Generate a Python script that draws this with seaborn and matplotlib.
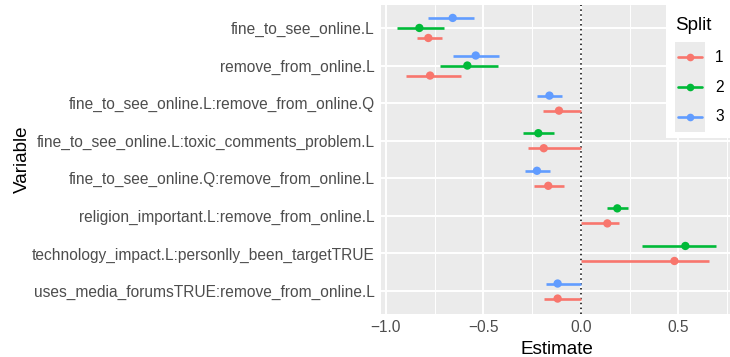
import matplotlib
matplotlib.use("Agg")
import matplotlib.pyplot as plt
from matplotlib.patches import Rectangle
from matplotlib.lines import Line2D
import numpy as np
import pandas as pd
import seaborn as sns

# Model coefficients per split: point estimate with confidence interval
variables = [
    "fine_to_see_online.L",
    "remove_from_online.L",
    "fine_to_see_online.L:remove_from_online.Q",
    "fine_to_see_online.L:toxic_comments_problem.L",
    "fine_to_see_online.Q:remove_from_online.L",
    "religion_important.L:remove_from_online.L",
    "technology_impact.L:personlly_been_targetTRUE",
    "uses_media_forumsTRUE:remove_from_online.L",
]

variable = [
    variables[0], variables[0], variables[0],
    variables[1], variables[1], variables[1],
    variables[2], variables[2],
    variables[3], variables[3],
    variables[4], variables[4],
    variables[5], variables[5],
    variables[6], variables[6],
    variables[7], variables[7],
]
split = [1, 2, 3, 1, 2, 3, 1, 3, 1, 2, 1, 3, 1, 2, 1, 2, 1, 3]
estimate = [-0.782, -0.828, -0.657, -0.773, -0.582, -0.539, -0.112, -0.161,
            -0.190, -0.218, -0.167, -0.225, 0.136, 0.187, 0.480, 0.536,
            -0.119, -0.119]
ci_low = [-0.842, -0.941, -0.782, -0.896, -0.722, -0.657, -0.192, -0.223,
          -0.269, -0.298, -0.240, -0.286, 0.000, 0.136, 0.000, 0.312,
          -0.187, -0.178]
ci_high = [-0.710, -0.700, -0.546, -0.616, -0.423, -0.418, 0.000, -0.095,
           0.000, -0.136, -0.085, -0.158, 0.196, 0.240, 0.657, 0.693,
           0.000, 0.000]

splits = [1, 2, 3]
palette = {1: "#F8766D", 2: "#00BA38", 3: "#619CFF"}

df = pd.DataFrame({"variable": variable, "split": split, "estimate": estimate,
                   "low": ci_low, "high": ci_high})

# dodge positions within each variable row (split 1 lowest on screen)
dodge_width = 0.8
df["row"] = df["variable"].map({v: i for i, v in enumerate(variables)})
pos = []
for _, r in df.iterrows():
    grp = sorted(df.loc[df["variable"] == r["variable"], "split"])
    n = len(grp)
    k = grp.index(r["split"])
    pos.append(r["row"] + ((n - 1) / 2 - k) * dodge_width / n)
df["ypos"] = pos

W, H = 730, 357
fig = plt.figure(figsize=(W / 100, H / 100), dpi=100)
sns.set_style("white")
plt.rcParams["font.family"] = ["Liberation Sans", "DejaVu Sans"]

lo = min(df["low"].min(), df["estimate"].min())
hi = max(df["high"].max(), df["estimate"].max())
span = hi - lo
xlim = (lo - 0.05 * span, hi + 0.05 * span)

px_left, px_right = 381.4, 731.9
px_top, px_bottom = 5.4, 313.6
ax = fig.add_axes([px_left / W, 1 - px_bottom / H,
                   (px_right - px_left) / W, (px_bottom - px_top) / H])
ax.set_facecolor("#EBEBEB")
for s in ax.spines.values():
    s.set_visible(False)

ax.set_xlim(*xlim)
ax.set_ylim(len(variables) - 1 + 0.6, -0.6)

major = [-1.0, -0.5, 0.0, 0.5]
minor = [-0.75, -0.25, 0.25, 0.75]
for m in minor:
    ax.axvline(m, color="white", lw=0.7, zorder=0.5)
for m in major:
    ax.axvline(m, color="white", lw=1.4, zorder=0.6)
for i in range(len(variables)):
    ax.axhline(i, color="white", lw=1.4, zorder=0.6)

ax.axvline(0, color="black", lw=1.1, ls=(0, (1, 2.2)), zorder=2)

for sp in splits:
    d = df[df["split"] == sp]
    ax.hlines(d["ypos"], d["low"], d["high"], colors=palette[sp], lw=1.9,
              zorder=3)
sns.scatterplot(data=df, x="estimate", y="ypos", hue="split", palette=palette,
                s=36, edgecolor="none", linewidth=0, legend=False, zorder=4,
                ax=ax)

ax.set_xticks(major)
ax.set_xticklabels(["\u22121.0", "\u22120.5", "0.0", "0.5"])
ax.set_yticks(range(len(variables)))
ax.set_yticklabels(variables)
ax.tick_params(axis="both", length=2.6, width=0.8, color="#333333",
               labelcolor="#4D4D4D", labelsize=11.2, pad=2.2)
ax.set_xlabel("Estimate", fontsize=13.6, color="black", labelpad=4)
ax.set_ylabel("Variable", fontsize=13.6, color="black", labelpad=1)

# legend box drawn in pixel units
lx0, ly0, lw_, lh_ = 666, 0, 64, 138
lax = fig.add_axes([lx0 / W, 1 - (ly0 + lh_) / H, lw_ / W, lh_ / H])
lax.set_xlim(0, lw_)
lax.set_ylim(lh_, 0)
lax.set_facecolor("white")
lax.set_xticks([])
lax.set_yticks([])
for s in lax.spines.values():
    s.set_visible(False)
lax.text(9.5, 25, "Split", fontsize=13.6, ha="left", va="center",
         color="black")
lax.add_patch(Rectangle((9, 42), 30, 90, facecolor="#EBEBEB",
                        edgecolor="none"))
for j, sp in enumerate(splits):
    yy = 57 + 30 * j
    lax.add_line(Line2D([12, 36], [yy, yy], color=palette[sp], lw=1.9))
    lax.plot([24], [yy], "o", color=palette[sp], markersize=5.5,
             markeredgewidth=0)
    lax.text(49, yy, str(sp), fontsize=11.2, ha="left", va="center",
             color="black")

fig.savefig("out.png", dpi=100)
